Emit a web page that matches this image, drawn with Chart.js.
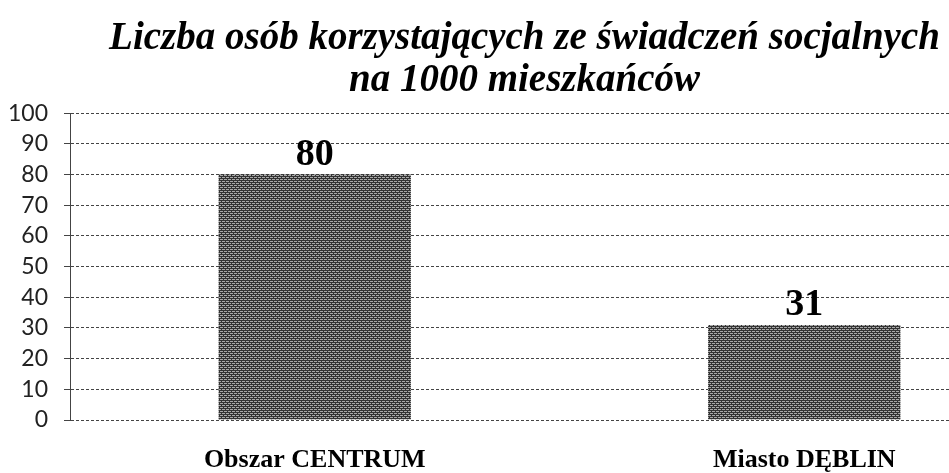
<!DOCTYPE html>
<html>
<head>
<meta charset="utf-8">
<script src="https://cdn.jsdelivr.net/npm/chart.js@4"></script>
<style>
    body { margin: 0; background: #fff; overflow: hidden; }
    #wrap { width: 1050px; height: 473px; }
</style>
</head>
<body>
<div id="wrap"><canvas id="wykres"></canvas></div>
<script>
const kategorie = ['Obszar CENTRUM', 'Miasto DĘBLIN'];
const wartosci = [80, 31];
const tytul = ['Liczba osób korzystających ze świadczeń socjalnych', 'na 1000 mieszkańców'];

// wzór kreskowany jak w skanie
function zrobWzor() {
    const c = document.createElement('canvas');
    c.width = 4; c.height = 4;
    const g = c.getContext('2d');
    g.fillStyle = '#a8a8a8';
    g.fillRect(0, 0, 4, 4);
    g.fillStyle = '#333';
    g.fillRect(0, 0, 4, 1);
    g.fillRect(0, 2, 4, 1);
    g.fillRect(1, 1, 1, 1);
    g.fillRect(3, 3, 1, 1);
    return g.createPattern(c, 'repeat');
}

const etykiety = {
    id: 'etykiety',
    afterDatasetsDraw(chart) {
        const ctx = chart.ctx;
        const meta = chart.getDatasetMeta(0);
        ctx.save();
        ctx.font = 'bold 38px "Liberation Serif"';
        ctx.fillStyle = '#000';
        ctx.textAlign = 'center';
        ctx.textBaseline = 'alphabetic';
        meta.data.forEach((bar, i) => {
            ctx.fillText(wartosci[i], bar.x, bar.y - 10);
        });
        ctx.restore();
    }
};

const ctx = document.getElementById('wykres').getContext('2d');
new Chart(ctx, {
    type: 'bar',
    data: {
        labels: kategorie,
        datasets: [{
            data: wartosci,
            backgroundColor: zrobWzor(),
            barPercentage: 0.393,
            categoryPercentage: 1
        }]
    },
    options: {
        responsive: true,
        maintainAspectRatio: false,
        animation: false,
        layout: { padding: { left: 0, right: 1, bottom: 0 } },
        plugins: {
            legend: { display: false },
            tooltip: { enabled: false },
            title: {
                display: true,
                text: tytul,
                color: '#000',
                font: { family: '"Liberation Serif"', size: 39, weight: 'bold', style: 'italic', lineHeight: 1.08 },
                padding: { top: 18, bottom: 11 }
            }
        },
        scales: {
            x: {
                grid: { display: false },
                border: { display: false },
                ticks: {
                    color: '#000',
                    padding: 19,
                    font: { family: '"Liberation Serif"', size: 26, weight: 'bold', lineHeight: 1 }
                },
                afterFit(scale) { scale.height = 53; }
            },
            y: {
                min: 0,
                max: 100,
                ticks: {
                    stepSize: 10,
                    autoSkip: false,
                    color: '#222',
                    padding: 16,
                    font: { family: 'Lato', size: 23 }
                },
                grid: {
                    color: '#444',
                    lineWidth: 1,
                    tickLength: 6
                },
                border: { display: true, color: '#444', dash: [3, 2] },
                afterFit(scale) { scale.width = 70; }
            }
        }
    },
    plugins: [etykiety]
});
</script>
</body>
</html>
